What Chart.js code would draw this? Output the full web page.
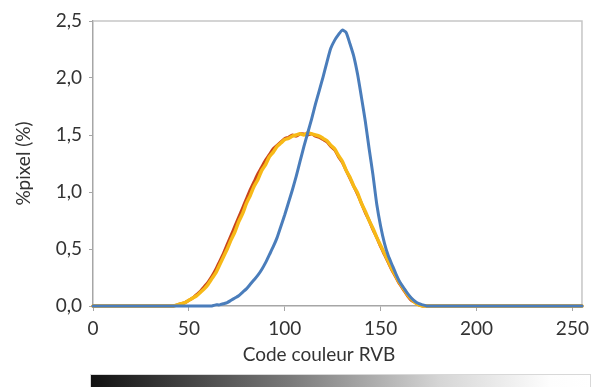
<!DOCTYPE html>
<html>
<head>
<meta charset="utf-8">
<script src="https://cdn.jsdelivr.net/npm/chart.js@4.4.1/dist/chart.umd.min.js"></script>
<style>
  html, body { margin: 0; padding: 0; background: #fff; }
  #wrap { position: relative; width: 595px; height: 387px; overflow: hidden; }
  #chart { position: absolute; left: 0; top: 0; }
  #scale {
    position: absolute; left: 90px; top: 374px; width: 499px; height: 16px;
    border: 1px solid #d8d8d8;
    background: linear-gradient(to right, #111 0%, #7a7a7a 40%, #d6d6d6 70%, #fdfdfd 92%, #fff 100%);
  }
</style>
</head>
<body>
<div id="wrap">
  <canvas id="chart" width="595" height="387"></canvas>
  <div id="scale"></div>
</div>
<script>
// RVB code (x) and % of pixels (y)
var codes = [0, 10, 20, 30, 40, 42, 44, 46, 48, 50, 52, 54, 56, 58, 60, 62, 64, 66, 68, 70,
  72, 74, 76, 78, 80, 82, 84, 86, 88, 90, 92, 94, 96, 98, 100, 102, 104, 106, 108, 110,
  112, 114, 116, 118, 120, 122, 124, 126, 128, 130, 132, 134, 136, 138, 140, 142, 144, 146, 148, 150,
  152, 154, 156, 158, 160, 162, 164, 166, 168, 170, 172, 174, 176, 180, 190, 200, 210, 220, 230, 240,
  250, 255];

var redValues = [0, 0, 0, 0, 0, 0, 0.01, 0.02, 0.03, 0.05, 0.07, 0.10, 0.13, 0.17, 0.21, 0.26, 0.32, 0.39, 0.46, 0.54,
  0.62, 0.70, 0.78, 0.86, 0.94, 1.02, 1.09, 1.16, 1.22, 1.28, 1.33, 1.38, 1.41, 1.44, 1.47, 1.48, 1.50, 1.49, 1.51, 1.51,
  1.50, 1.51, 1.49, 1.48, 1.46, 1.44, 1.40, 1.37, 1.31, 1.26, 1.19, 1.12, 1.05, 0.98, 0.90, 0.82, 0.75, 0.67, 0.60, 0.52,
  0.45, 0.38, 0.31, 0.25, 0.19, 0.14, 0.09, 0.05, 0.03, 0.01, 0, 0, 0, 0, 0, 0, 0, 0, 0, 0,
  0, 0];

var yellowValues = [0, 0, 0, 0, 0, 0, 0.01, 0.02, 0.03, 0.05, 0.07, 0.09, 0.12, 0.15, 0.19, 0.24, 0.29, 0.36, 0.43, 0.50,
  0.58, 0.65, 0.74, 0.81, 0.90, 0.97, 1.05, 1.11, 1.19, 1.24, 1.31, 1.35, 1.40, 1.43, 1.46, 1.47, 1.49, 1.50, 1.51, 1.50,
  1.52, 1.51, 1.50, 1.49, 1.47, 1.45, 1.41, 1.38, 1.32, 1.27, 1.19, 1.13, 1.05, 0.99, 0.90, 0.83, 0.75, 0.68, 0.60, 0.53,
  0.46, 0.39, 0.32, 0.26, 0.20, 0.15, 0.10, 0.06, 0.03, 0.01, 0, 0, 0, 0, 0, 0, 0, 0, 0, 0,
  0, 0];

var blueValues = [0, 0, 0, 0, 0, 0, 0, 0, 0, 0, 0, 0, 0, 0, 0, 0, 0.01, 0.01, 0.02, 0.03,
  0.05, 0.07, 0.09, 0.12, 0.15, 0.19, 0.23, 0.27, 0.32, 0.38, 0.45, 0.52, 0.60, 0.70, 0.80, 0.91, 1.02, 1.14, 1.27, 1.40,
  1.52, 1.64, 1.77, 1.89, 2.01, 2.14, 2.26, 2.33, 2.38, 2.42, 2.40, 2.30, 2.19, 2.03, 1.83, 1.62, 1.38, 1.15, 0.89, 0.70,
  0.55, 0.44, 0.36, 0.28, 0.21, 0.16, 0.11, 0.07, 0.04, 0.02, 0.01, 0, 0, 0, 0, 0, 0, 0, 0, 0,
  0, 0];

var xTicks = [0, 50, 100, 150, 200, 250];
var yTicks = [0, 0.5, 1.0, 1.5, 2.0, 2.5];
var xTitle = 'Code couleur RVB';

function points(values) {
  return codes.map(function (c, i) { return { x: c, y: values[i] }; });
}

var font = { family: 'Lato', size: 19 };
var textColor = '#333';

// light frame on top and right of the plot
var frame = {
  id: 'frame',
  beforeDatasetsDraw: function (chart) {
    var a = chart.chartArea, ctx = chart.ctx;
    ctx.save();
    ctx.strokeStyle = '#c6c6c6';
    ctx.lineWidth = 1.5;
    ctx.beginPath();
    ctx.moveTo(a.left, a.top);
    ctx.lineTo(a.right, a.top);
    ctx.lineTo(a.right, a.bottom);
    ctx.stroke();
    ctx.restore();
  }
};

// x title sits a bit left of the plot centre, like the original
var xTitlePlugin = {
  id: 'xTitle',
  afterDraw: function (chart) {
    var a = chart.chartArea, ctx = chart.ctx;
    ctx.save();
    ctx.font = font.size + 'px ' + font.family;
    ctx.fillStyle = textColor;
    ctx.textAlign = 'center';
    ctx.textBaseline = 'middle';
    ctx.fillText(xTitle, a.left + 226, a.bottom + 49);
    ctx.restore();
  }
};

new Chart(document.getElementById('chart'), {
  type: 'line',
  data: {
    datasets: [
      { label: 'B', data: points(blueValues), borderColor: '#4a7dbb', borderWidth: 3 },
      { label: 'V', data: points(yellowValues), borderColor: '#f7b917', borderWidth: 3.5 },
      { label: 'R', data: points(redValues), borderColor: '#c9441c', borderWidth: 3 },
    ],
  },
  options: {
    responsive: false,
    animation: false,
    layout: { padding: { left: 0, right: 4, top: 21, bottom: 22 } },
    elements: {
      point: { radius: 0 },
      line: { tension: 0.2, borderCapStyle: 'round', borderJoinStyle: 'round' },
    },
    datasets: { line: { clip: false } },
    plugins: { legend: { display: false }, tooltip: { enabled: false } },
    scales: {
      x: {
        type: 'linear',
        min: 0,
        max: 255,
        afterBuildTicks: function (scale) {
          scale.ticks = xTicks.map(function (v) { return { value: v }; });
        },
        afterFit: function (scale) { scale.height = 59; },
        ticks: { font: font, color: textColor, padding: 6, includeBounds: false },
        grid: { drawOnChartArea: false, tickLength: 5, color: '#a6a6a6' },
        border: { display: true, color: '#a6a6a6', width: 1.5 },
      },
      y: {
        min: 0,
        max: 2.5,
        afterBuildTicks: function (scale) {
          scale.ticks = yTicks.map(function (v) { return { value: v }; });
        },
        afterFit: function (scale) { scale.width = 93; },
        ticks: {
          font: font,
          color: textColor,
          padding: 7,
          callback: function (v) { return v.toFixed(1).replace('.', ','); },
        },
        grid: { drawOnChartArea: false, tickLength: 4, color: '#a6a6a6' },
        border: { display: true, color: '#a6a6a6', width: 1.5 },
        title: { display: true, text: '%pixel (%)', font: font, color: textColor, padding: { top: 12, bottom: 0 } },
      },
    },
  },
  plugins: [frame, xTitlePlugin],
});
</script>
</body>
</html>
